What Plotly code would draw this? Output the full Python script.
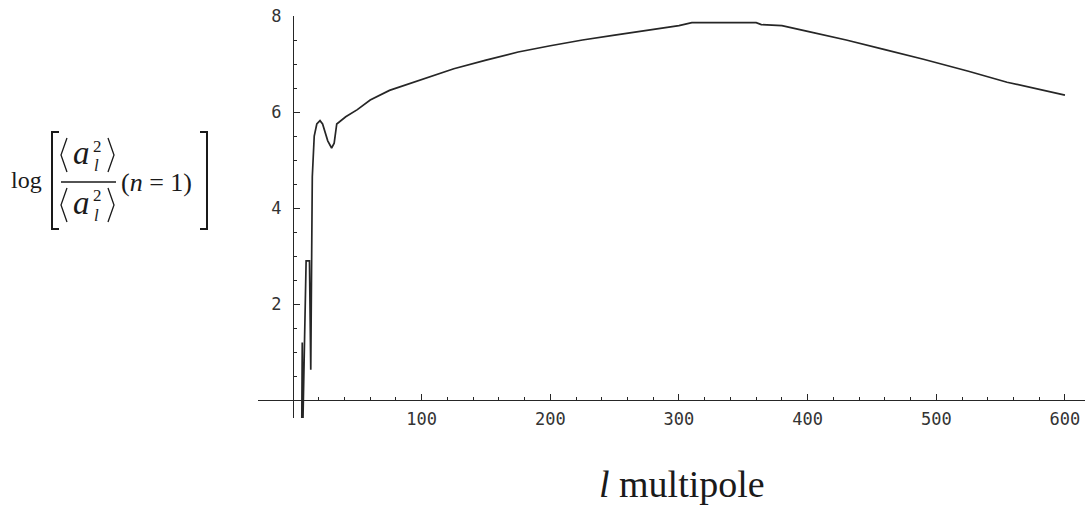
import plotly.graph_objects as go

# ---- data ----
l_vals = [6.8, 7.2, 7.6, 10.2, 12.8, 13.8, 15.0, 16.5, 18.5, 21, 23, 27, 30, 32, 34, 36.5,
          41, 50, 60, 75, 100, 125, 150, 175, 200, 225, 250, 275, 300, 310, 360, 364,
          380, 400, 430, 460, 490, 525, 555, 600]
y_vals = [-0.6, 1.2, -0.6, 2.9, 2.9, 0.63, 4.65, 5.5, 5.75, 5.82, 5.75, 5.4, 5.25, 5.35, 5.75, 5.8,
          5.9, 6.05, 6.25, 6.45, 6.67, 6.9, 7.08, 7.25, 7.38, 7.5, 7.6, 7.7, 7.8, 7.86, 7.86, 7.82,
          7.8, 7.68, 7.5, 7.3, 7.1, 6.85, 6.62, 6.35]

x_major = [100, 200, 300, 400, 500, 600]
x_major_labels = ["100", "200", "300", "400", "500", "600"]
x_minor = [v for v in range(20, 601, 20) if v % 100 != 0]
y_major = [2, 4, 6, 8]
y_major_labels = ["2", "4", "6", "8"]
y_minor = [v / 2 for v in range(1, 16) if v % 4 != 0]

# ---- layout geometry (pixels) ----
W_FIG, H_FIG = 1090, 506
L, R, T, B = 258, 1085, 16, 418
PW, PH = R - L, B - T
X0_PX, X_SCALE = 293, 1.2866     # pixel of l=0, px per unit
Y0_PX, Y_SCALE = 400, 48.0       # pixel of y=0, px per unit
x_range = [(L - X0_PX) / X_SCALE, (R - X0_PX) / X_SCALE]
y_range = [(Y0_PX - B) / Y_SCALE, (Y0_PX - T) / Y_SCALE]


def px(x):
    return (x - L) / PW


def py(y):
    return (B - y) / PH


INK = "#262626"
SERIF = "Liberation Serif, Times New Roman, serif"
TICKFONT = dict(family="DejaVu Sans Mono, monospace", size=17, color="#333333")

fig = go.Figure()
fig.add_trace(go.Scatter(x=l_vals, y=y_vals, mode="lines",
                         line=dict(color=INK, width=1.7), hoverinfo="skip",
                         showlegend=False))

fig.update_layout(
    width=W_FIG, height=H_FIG,
    margin=dict(l=L, r=W_FIG - R, t=T, b=H_FIG - B, pad=0),
    paper_bgcolor="white", plot_bgcolor="white",
    xaxis=dict(range=x_range, anchor="free", position=py(Y0_PX),
               showgrid=False, zeroline=False, showline=True,
               linecolor=INK, linewidth=1.4,
               tickmode="array", tickvals=x_major, ticktext=x_major_labels,
               ticks="inside", ticklen=6, tickwidth=1.3, tickcolor=INK,
               tickfont=TICKFONT, ticklabelstandoff=3,
               minor=dict(tickmode="array", tickvals=x_minor, ticks="inside",
                          ticklen=3, tickwidth=1.1, tickcolor=INK)),
    yaxis=dict(range=y_range, anchor="free", position=px(X0_PX),
               showgrid=False, zeroline=False, showline=True,
               linecolor=INK, linewidth=1.4,
               tickmode="array", tickvals=y_major, ticktext=y_major_labels,
               ticks="inside", ticklen=6, tickwidth=1.3, tickcolor=INK,
               tickfont=TICKFONT, ticklabelstandoff=8,
               minor=dict(tickmode="array", tickvals=y_minor, ticks="inside",
                          ticklen=3, tickwidth=1.1, tickcolor=INK)),
)

ann = []


def text(x, y, s, size, italic=False, anchor="center"):
    if italic:
        s = "<i>" + s + "</i>"
    ann.append(dict(x=px(x), y=py(y), xref="paper", yref="paper", text=s,
                    showarrow=False, xanchor=anchor, yanchor="middle",
                    font=dict(family=SERIF, size=size, color="#1a1a1a")))


# x-axis title
ann.append(dict(x=px(682), y=py(484), xref="paper", yref="paper",
                text="<i>l</i> multipole", showarrow=False,
                xanchor="center", yanchor="middle",
                font=dict(family=SERIF, size=38, color="#1a1a1a")))

# y-axis title: log[ <a_l^2>/<a_l^2> (n=1) ]
text(26, 180, "log", 24)
for cy in (155, 205):
    text(81, cy - 2, "a", 33, italic=True)
    text(97, cy - 9, "2", 17)
    text(96, cy + 10, "l", 17, italic=True)
text(156, 182, "(<i>n</i> = 1)", 26)

shapes = []


def path(d, w=1.4):
    shapes.append(dict(type="path", path=d, xref="paper", yref="paper",
                       line=dict(color="#1a1a1a", width=w)))


def P(x, y):
    return f"{px(x):.5f},{py(y):.5f}"


# square brackets
path(f"M {P(59,132)} L {P(52,132)} L {P(52,229)} L {P(59,229)}", 2.0)
path(f"M {P(200,132)} L {P(207,132)} L {P(207,229)} L {P(200,229)}", 2.0)
# angle brackets
for cy in (155, 205):
    path(f"M {P(67,cy-17)} L {P(61,cy)} L {P(67,cy+17)}", 1.3)
    path(f"M {P(108,cy-17)} L {P(114,cy)} L {P(108,cy+17)}", 1.3)
# fraction bar
path(f"M {P(61,182)} L {P(116,182)}", 1.3)

fig.update_layout(annotations=ann, shapes=shapes)

fig.write_html("out.html")
